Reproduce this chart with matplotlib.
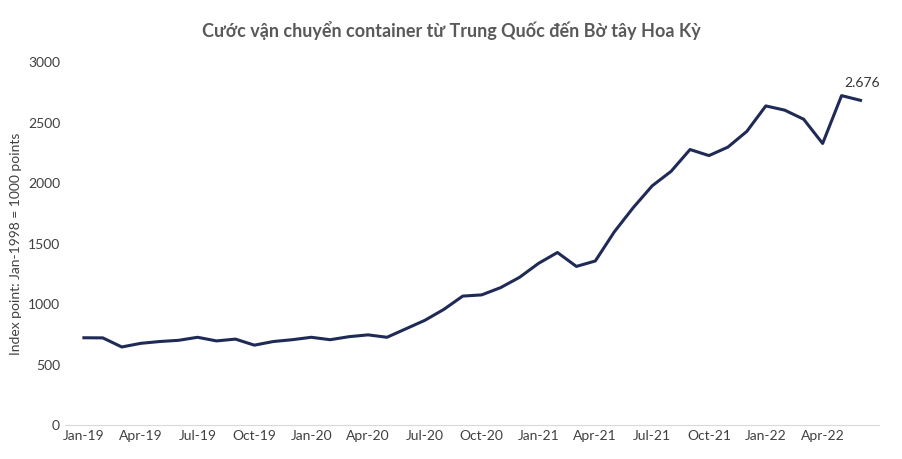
import matplotlib
matplotlib.use("Agg")
import matplotlib.pyplot as plt

plt.rcParams['font.family'] = ['Lato', 'DejaVu Sans']

months = ["Jan", "Feb", "Mar", "Apr", "May", "Jun", "Jul", "Aug", "Sep", "Oct", "Nov", "Dec"]
labels = [f"{m}-{y}" for y in ["19", "20", "21", "22"] for m in months][:42]

values = [716, 715, 640, 670, 685, 695, 720, 690, 705, 655, 685, 700,
          720, 700, 725, 740, 720, 790, 860, 950, 1060, 1070, 1130, 1215,
          1330, 1420, 1305, 1350, 1590, 1790, 1970, 2090, 2270, 2220, 2290, 2420,
          2630, 2595, 2520, 2320, 2715, 2676]

fig, ax = plt.subplots(figsize=(9.02, 4.60), dpi=100)
fig.subplots_adjust(left=0.072, right=0.975, top=0.865, bottom=0.075)

x = list(range(len(values)))
ax.plot(x, values, color="#1f2a56", lw=2.2)
ax.annotate("2.676", (x[-1], values[-1]), xytext=(-12, 10), textcoords="offset points",
            fontsize=10, color="#333333")

ax.set_ylim(0, 3000)
ax.set_yticks(range(0, 3001, 500))
ax.set_xlim(-1, len(values))
ax.set_xticks(x[::3])
ax.set_xticklabels(labels[::3])
ax.tick_params(axis="both", length=0, labelsize=10, colors="#404040")
ax.set_ylabel("Index point: Jan-1998 = 1000 points", fontsize=10, color="#404040")
for s in ["top", "right", "left"]:
    ax.spines[s].set_visible(False)
ax.spines["bottom"].set_color("#d9d9d9")

fig.suptitle("Cước vận chuyển container từ Trung Quốc đến Bờ tây Hoa Kỳ",
             fontsize=13, fontweight="bold", color="#595959", y=0.955)

fig.savefig("out.png")
